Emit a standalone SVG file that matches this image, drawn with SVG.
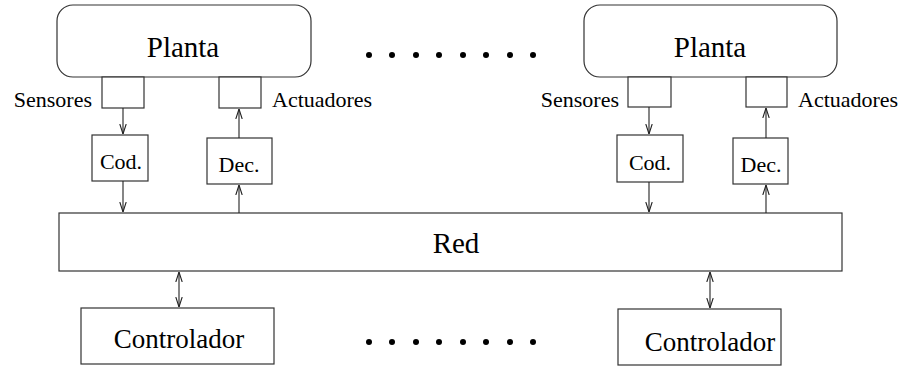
<svg xmlns="http://www.w3.org/2000/svg" width="900" height="366" viewBox="0 0 900 366">
<defs>
<style>
.box{fill:#fff;stroke:#333;stroke-width:1.2}
.ln{stroke:#222;stroke-width:1.1;fill:none}
.big{font-family:"Liberation Serif",serif;font-size:29px;fill:#000;text-anchor:middle}
.ctl{font-family:"Liberation Serif",serif;font-size:27px;fill:#000;text-anchor:middle}
.sm{font-family:"Liberation Serif",serif;font-size:22px;fill:#000}
.mid{text-anchor:middle}
.dot{fill:#000}
</style>
<marker id="ah" viewBox="0 0 10 10" refX="10" refY="5" markerWidth="10" markerHeight="10" markerUnits="userSpaceOnUse" orient="auto-start-reverse">
<path d="M0,1.8 L10,5 L0,8.2" fill="none" stroke="#222" stroke-width="1.1"/>
</marker>
</defs>
<rect width="900" height="366" fill="#fff"/>

<g id="planta1"><rect class="box" x="57" y="5" width="254" height="72" rx="16"/><text class="big" x="183" y="57">Planta</text></g>
<g id="planta2"><rect class="box" x="584" y="5" width="253" height="72" rx="16"/><text class="big" x="710" y="57">Planta</text></g>

<g id="sensor1"><rect class="box" x="102" y="77" width="42" height="31"/><text class="sm" x="92" y="107" text-anchor="end">Sensores</text></g>
<g id="act1"><rect class="box" x="219" y="77" width="42" height="31"/><text class="sm" x="272" y="107">Actuadores</text></g>
<g id="sensor2"><rect class="box" x="628" y="77" width="43" height="30"/><text class="sm" x="619" y="107" text-anchor="end">Sensores</text></g>
<g id="act2"><rect class="box" x="746" y="77" width="41" height="30"/><text class="sm" x="798" y="107">Actuadores</text></g>

<g id="cod1"><rect class="box" x="92" y="135" width="56" height="46"/><text class="sm mid" x="121" y="169">Cod.</text></g>
<g id="dec1"><rect class="box" x="207" y="138" width="65" height="46"/><text class="sm mid" x="239" y="172">Dec.</text></g>
<g id="cod2"><rect class="box" x="617" y="135" width="66" height="47"/><text class="sm mid" x="650" y="170">Cod.</text></g>
<g id="dec2"><rect class="box" x="733" y="138" width="55" height="46"/><text class="sm mid" x="761" y="172">Dec.</text></g>

<g id="red"><rect class="box" x="59" y="213" width="783" height="58"/><text class="big" x="456" y="253">Red</text></g>

<g id="ctl1"><rect class="box" x="81" y="308" width="193" height="56"/><text class="ctl" x="179" y="348">Controlador</text></g>
<g id="ctl2"><rect class="box" x="618" y="309" width="163" height="56"/><text class="ctl" x="710" y="351">Controlador</text></g>

<g id="dots">
<circle class="dot" cx="369" cy="55" r="3"/><circle class="dot" cx="392" cy="55" r="3"/><circle class="dot" cx="416" cy="55" r="3"/><circle class="dot" cx="439" cy="55" r="3"/><circle class="dot" cx="463" cy="55" r="3"/><circle class="dot" cx="486" cy="55" r="3"/><circle class="dot" cx="510" cy="55" r="3"/><circle class="dot" cx="533" cy="55" r="3"/>
<circle class="dot" cx="369" cy="342" r="3"/><circle class="dot" cx="392" cy="342" r="3"/><circle class="dot" cx="416" cy="342" r="3"/><circle class="dot" cx="439" cy="342" r="3"/><circle class="dot" cx="463" cy="342" r="3"/><circle class="dot" cx="486" cy="342" r="3"/><circle class="dot" cx="510" cy="342" r="3"/><circle class="dot" cx="533" cy="342" r="3"/>
</g>

<g id="connectors">
<line class="ln" x1="123" y1="108" x2="123" y2="134" marker-end="url(#ah)"/>
<line class="ln" x1="123" y1="181" x2="123" y2="212" marker-end="url(#ah)"/>
<line class="ln" x1="239" y1="138" x2="239" y2="109" marker-end="url(#ah)"/>
<line class="ln" x1="239" y1="213" x2="239" y2="185" marker-end="url(#ah)"/>
<line class="ln" x1="649" y1="107" x2="649" y2="134" marker-end="url(#ah)"/>
<line class="ln" x1="649" y1="182" x2="649" y2="212" marker-end="url(#ah)"/>
<line class="ln" x1="766" y1="138" x2="766" y2="108" marker-end="url(#ah)"/>
<line class="ln" x1="766" y1="213" x2="766" y2="185" marker-end="url(#ah)"/>
<line class="ln" x1="179" y1="272" x2="179" y2="307" marker-start="url(#ah)" marker-end="url(#ah)"/>
<line class="ln" x1="710" y1="272" x2="710" y2="308" marker-start="url(#ah)" marker-end="url(#ah)"/>
</g>
</svg>
